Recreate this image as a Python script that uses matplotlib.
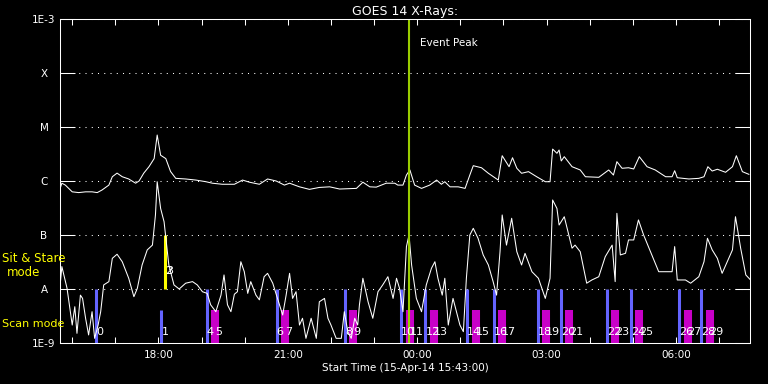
import numpy as np
import matplotlib
matplotlib.use('Agg')
import matplotlib.pyplot as plt
from matplotlib.ticker import FuncFormatter, NullLocator

# times are hours after 00:00 on 15-Apr-14 (values > 24 fall on 16-Apr)
long_t = [15.72, 15.76, 15.84, 16.00, 16.15, 16.31, 16.46, 16.58, 16.69, 16.85,
          16.93, 17.04, 17.16, 17.31, 17.47, 17.55, 17.66, 17.78, 17.90, 17.97,
          18.05, 18.17, 18.28, 18.40, 18.63, 18.87, 19.10, 19.25, 19.48, 19.76,
          19.95, 20.11, 20.34, 20.53, 20.73, 20.92, 21.04, 21.27, 21.50, 21.73,
          21.97, 22.20, 22.59, 22.74, 22.90, 23.05, 23.28, 23.48, 23.55, 23.67,
          23.75, 23.83, 23.94, 24.10, 24.29, 24.45, 24.56, 24.64, 24.76, 24.95,
          25.11, 25.22, 25.30, 25.49, 25.65, 25.88, 25.97, 26.13, 26.21, 26.31,
          26.42, 26.58, 26.77, 26.97, 27.08, 27.14, 27.24, 27.29, 27.34, 27.41,
          27.59, 27.78, 27.90, 28.21, 28.44, 28.55, 28.63, 28.75, 28.90, 29.02,
          29.15, 29.33, 29.52, 29.76, 29.91, 29.97, 30.03, 30.30, 30.53, 30.65,
          30.74, 30.84, 30.96, 31.15, 31.31, 31.40, 31.54, 31.69]
long_flux = [7.3e-7, 9.1e-7, 8.4e-7, 6.3e-7, 6.1e-7, 6.3e-7, 6.3e-7, 6.1e-7, 6.8e-7, 8.4e-7,
             1.2e-6, 1.4e-6, 1.2e-6, 1.09e-6, 9.1e-7, 1.0e-6, 1.4e-6, 1.84e-6, 2.6e-6, 7.1e-6,
             3.0e-6, 2.6e-6, 1.5e-6, 1.12e-6, 1.09e-6, 1.04e-6, 9.7e-7, 9.1e-7, 8.7e-7, 8.7e-7,
             1.04e-6, 9.5e-7, 8.7e-7, 1.09e-6, 1.0e-6, 8.4e-7, 9.1e-7, 7.8e-7, 7.0e-7, 7.6e-7,
             7.8e-7, 7.1e-7, 7.3e-7, 9.5e-7, 7.8e-7, 7.7e-7, 9.1e-7, 9.1e-7, 8.4e-7, 8.4e-7,
             1.29e-6, 1.6e-6, 8.4e-7, 7.3e-7, 8.4e-7, 1.04e-6, 8.7e-7, 9.7e-7, 7.8e-7, 7.8e-7,
             7.3e-7, 1.29e-6, 1.92e-6, 1.76e-6, 1.39e-6, 1.04e-6, 2.94e-6, 1.84e-6, 2.7e-6, 1.72e-6,
             1.39e-6, 1.49e-6, 1.2e-6, 9.7e-7, 9.7e-7, 3.9e-6, 3.26e-6, 3.75e-6, 2.35e-6, 2.82e-6,
             1.84e-6, 1.6e-6, 1.2e-6, 1.17e-6, 1.6e-6, 1.29e-6, 2.28e-6, 1.72e-6, 1.76e-6, 1.67e-6,
             2.82e-6, 1.84e-6, 1.6e-6, 1.2e-6, 1.2e-6, 1.55e-6, 1.15e-6, 1.09e-6, 1.12e-6, 1.2e-6,
             1.84e-6, 1.53e-6, 1.65e-6, 1.45e-6, 1.84e-6, 2.94e-6, 1.49e-6, 1.33e-6]

short_t = [15.72, 15.76, 15.88, 16.00, 16.06, 16.11, 16.19, 16.24, 16.31, 16.38,
           16.46, 16.52, 16.60, 16.66, 16.73, 16.85, 16.93, 17.04, 17.16, 17.31,
           17.43, 17.51, 17.62, 17.74, 17.86, 17.93, 17.97, 18.05, 18.13, 18.24,
           18.36, 18.48, 18.63, 18.79, 18.90, 19.02, 19.13, 19.21, 19.33, 19.45,
           19.52, 19.60, 19.68, 19.76, 19.83, 19.91, 19.99, 20.07, 20.14, 20.26,
           20.34, 20.45, 20.53, 20.65, 20.76, 20.88, 20.96, 21.04, 21.11, 21.19,
           21.27, 21.34, 21.42, 21.54, 21.66, 21.73, 21.85, 21.93, 22.00, 22.12,
           22.24, 22.31, 22.39, 22.47, 22.55, 22.62, 22.66, 22.74, 22.86, 22.97,
           23.09, 23.20, 23.32, 23.44, 23.52, 23.59, 23.67, 23.75, 23.81, 23.87,
           23.98, 24.10, 24.21, 24.33, 24.41, 24.48, 24.58, 24.64, 24.72, 24.83,
           24.91, 24.99, 25.07, 25.14, 25.22, 25.30, 25.41, 25.53, 25.65, 25.76,
           25.84, 25.92, 25.97, 26.07, 26.19, 26.31, 26.42, 26.50, 26.66, 26.81,
           26.97, 27.08, 27.14, 27.24, 27.29, 27.41, 27.59, 27.66, 27.78, 27.93,
           28.05, 28.21, 28.36, 28.52, 28.59, 28.63, 28.71, 28.83, 28.90, 29.02,
           29.13, 29.25, 29.41, 29.60, 29.76, 29.91, 29.97, 30.03, 30.22, 30.34,
           30.53, 30.65, 30.73, 30.84, 30.96, 31.07, 31.19, 31.31, 31.38, 31.50,
           31.62, 31.73]
short_flux = [1.19e-8, 2.6e-8, 1.03e-8, 2.15e-9, 4.7e-9, 1.51e-9, 7.7e-9, 6.7e-9, 2.87e-9, 1.41e-9,
              3.8e-9, 1.22e-9, 2.15e-9, 3.8e-9, 1.19e-8, 1.37e-8, 3.7e-8, 4.4e-8, 3.2e-8, 1.58e-8,
              7.2e-9, 1.03e-8, 2.78e-8, 5.3e-8, 6.5e-8, 2.35e-7, 9.7e-7, 3.1e-7, 1.76e-7, 2.78e-8,
              1.19e-8, 1.0e-8, 1.28e-8, 1.37e-8, 1.19e-8, 8.9e-9, 8.3e-9, 5.1e-9, 3.8e-9, 7.7e-9,
              1.82e-8, 5.1e-9, 3.8e-9, 8.0e-9, 8.9e-9, 3.2e-8, 2.09e-8, 8.3e-9, 1.37e-8, 7.7e-9,
              6.3e-9, 1.69e-8, 1.95e-8, 1.28e-8, 6.7e-9, 3.3e-9, 7.7e-9, 1.95e-8, 6.7e-9, 8.9e-9,
              2.15e-9, 2.87e-9, 1.22e-9, 2.87e-9, 1.22e-9, 5.8e-9, 6.7e-9, 2.87e-9, 2.15e-9, 1.22e-9,
              1.22e-9, 3.8e-9, 1.62e-9, 1.22e-9, 2.87e-9, 2.15e-9, 5.1e-9, 1.58e-8, 5.8e-9, 2.87e-9,
              8.9e-9, 1.19e-8, 1.69e-8, 6.7e-9, 1.58e-8, 1.03e-8, 3.8e-9, 6.1e-8, 1.0e-7, 2.78e-8,
              6.7e-9, 3.8e-9, 1.19e-8, 2.42e-8, 3.2e-8, 1.58e-8, 7.7e-9, 1.58e-8, 2.15e-9, 6.7e-9,
              3.8e-9, 2.15e-9, 1.62e-9, 1.58e-8, 1.0e-7, 1.33e-7, 8.7e-8, 4.27e-8, 2.78e-8, 1.37e-8,
              7.7e-9, 4.9e-8, 2.35e-7, 6.5e-8, 2.04e-7, 4.9e-8, 2.78e-8, 4.58e-8, 2.09e-8, 1.58e-8,
              6.7e-9, 1.58e-8, 4.45e-7, 3.1e-7, 1.53e-7, 2.18e-7, 5.7e-8, 6.5e-8, 4.9e-8, 1.28e-8,
              1.47e-8, 1.69e-8, 3.97e-8, 6.5e-8, 1.37e-8, 2.52e-7, 4.27e-8, 4.58e-8, 8.1e-8, 8.1e-8,
              1.9e-7, 1.0e-7, 4.9e-8, 2.09e-8, 2.09e-8, 2.09e-8, 6.1e-8, 1.47e-8, 1.47e-8, 1.28e-8,
              1.69e-8, 3.2e-8, 8.7e-8, 5.3e-8, 3.7e-8, 1.95e-8, 3.2e-8, 5.3e-8, 2.18e-7, 5.7e-8,
              1.82e-8, 1.47e-8]

# observation markers
scan_start_t = [16.56, 19.12, 20.74, 22.33, 23.63, 24.19, 25.16, 25.77, 26.79, 27.33, 28.40, 28.95, 30.07, 30.58]
scan_start_id = [0, 4, 6, 8, 10, 12, 14, 16, 18, 20, 22, 24, 26, 28]
scan_short_t = [18.07]
scan_short_id = [1]
scan_end_t = [19.31, 20.94, 22.52, 23.83, 24.38, 25.36, 25.97, 26.99, 27.52, 28.59, 29.15, 30.27, 30.78]
scan_end_id = [5, 7, 9, 11, 13, 15, 17, 19, 21, 23, 25, 27, 29]
stare_t = [18.14]
stare_label_t = [18.15, 18.17]
stare_id = [2, 3]
peak_t = 23.80

start_t = 15 + 43 / 60
end_t = start_t + 16

decades = [1e-9, 1e-8, 1e-7, 1e-6, 1e-5, 1e-4, 1e-3]
decade_labels = ['1E-9', 'A', 'B', 'C', 'M', 'X', '1E-3']

blue = '#6464ff'
magenta = '#c800c8'
yellow = '#ffff00'
green = '#9acd00'

fig = plt.figure(figsize=(7.68, 3.84), dpi=100, facecolor='black')
ax = fig.add_axes([60 / 768, 1 - 343 / 384, 690 / 768, 324 / 384], facecolor='black')

ax.set_yscale('log')
ax.set_xlim(start_t, end_t)
ax.set_ylim(1e-9, 1e-3)

# marker bars
ax.vlines(scan_start_t, 1e-9, 1e-8, color=blue, linewidth=2.2)
ax.vlines(scan_short_t, 1e-9, 4.1e-9, color=blue, linewidth=2.2)
ax.vlines(scan_end_t, 1e-9, 4.1e-9, color=magenta, linewidth=5.8)
ax.vlines(stare_t, 1e-8, 1e-7, color=yellow, linewidth=2.2)

# GOES curves
ax.plot(long_t, long_flux, color='white', linewidth=0.75)
ax.plot(short_t, short_flux, color='white', linewidth=0.75)

ax.axvline(peak_t, color=green, linewidth=1.5)
ax.text(24.06, 3.6e-4, 'Event Peak', color='white', fontsize=7.5, ha='left', va='center')

for t, i in zip(scan_start_t + scan_short_t + scan_end_t, scan_start_id + scan_short_id + scan_end_id):
    ax.text(t, 1.6e-9, str(i), color='white', fontsize=8, ha='left', va='center')
for t, i in zip(stare_label_t, stare_id):
    ax.text(t, 2.15e-8, str(i), color='white', fontsize=8, ha='left', va='center')

# axes styling
ax.set_yticks(decades)
ax.set_yticklabels(decade_labels)
ax.yaxis.set_minor_locator(NullLocator())
ax.tick_params(axis='y', which='major', direction='in', length=10.5, width=0.75,
               colors='white', left=True, right=True, pad=11.5, labelsize=7.5)
for lab in ax.get_yticklabels():
    lab.set_horizontalalignment('center')

ax.set_xticks(np.arange(16, 32))
ax.xaxis.set_major_formatter(FuncFormatter(
    lambda v, _: f'{int(round(v)) % 24:02d}:00' if int(round(v)) % 3 == 0 else ''))
ax.tick_params(axis='x', which='major', direction='in', length=4.3, width=0.75,
               colors='white', top=True, bottom=True, pad=5, labelsize=7.5)

ax.grid(axis='y', which='major', color='white', linestyle=(0, (1, 5)), linewidth=0.75)
for s in ax.spines.values():
    s.set_color('white')
    s.set_linewidth(0.75)

ax.set_title('GOES 14 X-Rays:', color='white', fontsize=9, pad=3)
ax.set_xlabel('Start Time (15-Apr-14 15:43:00)', color='white', fontsize=7.5, labelpad=2)

fig.text(2 / 768, 1 - 259 / 384, 'Sit & Stare', color=yellow, fontsize=8.5, ha='left', va='center')
fig.text(24 / 768, 1 - 272 / 384, 'mode', color=yellow, fontsize=8.5, ha='center', va='center')
fig.text(2 / 768, 1 - 324 / 384, 'Scan mode', color=yellow, fontsize=8, ha='left', va='center')

fig.savefig('out.png', dpi=100, facecolor='black')
